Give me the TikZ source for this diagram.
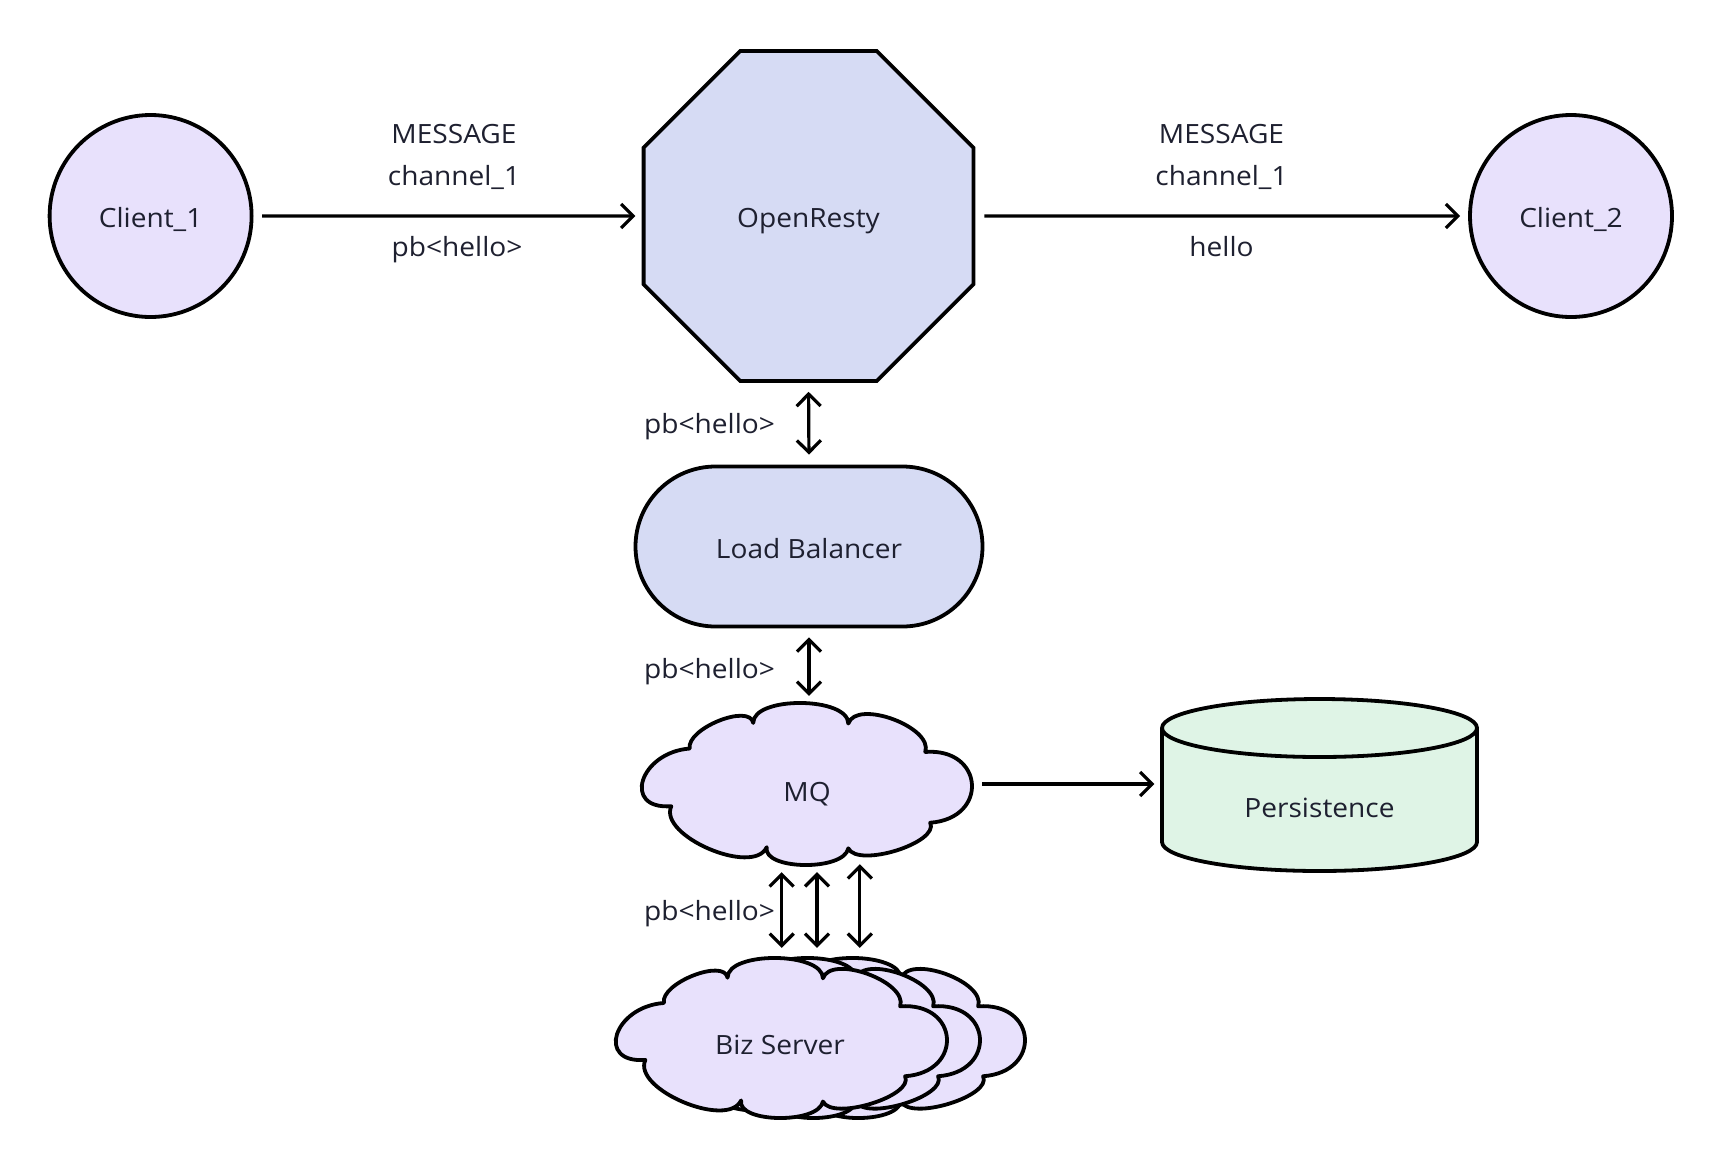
\documentclass[tikz,border=0pt]{standalone}
\usepackage{fontspec}
\setmainfont{Open Sans}[FakeStretch=1.06]
\usetikzlibrary{arrows.meta,shapes.geometric,shapes.misc,calc}
\definecolor{lav}{HTML}{E8E1FC}
\definecolor{blu}{HTML}{D6DBF4}
\definecolor{grn}{HTML}{DFF4E6}
\definecolor{ink}{HTML}{1E2030}
\newcommand\mycloud{(-0.414,0.137)
 .. controls (-0.566,0.160) and (-0.510,-0.196) .. (-0.358,-0.219)
 .. controls (-0.369,-0.342) and (-0.176,-0.500) .. (-0.165,-0.377)
 .. controls (-0.165,-0.544) and (0.124,-0.540) .. (0.124,-0.373)
 .. controls (0.149,-0.526) and (0.383,-0.351) .. (0.358,-0.198)
 .. controls (0.537,-0.225) and (0.552,0.212) .. (0.373,0.239)
 .. controls (0.402,0.362) and (0.153,0.520) .. (0.124,0.397)
 .. controls (0.111,0.539) and (-0.137,0.532) .. (-0.124,0.390)
 .. controls (-0.165,0.572) and (-0.455,0.319) .. (-0.414,0.137) -- cycle}
\begin{document}
\begin{tikzpicture}[x=1pt,y=-1pt,
  every node/.style={font=\fontsize{26.5}{40}\selectfont, text=ink},
  ctr/.style={text height=23.4pt, text depth=0pt},
  shp/.style={draw=black, line width=3.8pt, inner sep=0pt, ctr},
  cldline/.style={draw=black, fill=lav, line width=3.8pt, line join=round},
  box/.style={minimum width=329pt, minimum height=162pt, inner sep=0pt},
  conn/.style={line width=3.2pt, draw=black},
  tipa/.tip={Straight Barb[length=12pt,width=24pt]},
  one/.style={conn, -tipa},
  two/.style={conn, tipa-tipa},
  lbl/.style={anchor=base},
  vlbl/.style={anchor=base west, inner sep=0pt}]
\useasboundingbox[fill=white] (0,0) rectangle (1724,1168);

% nodes
\node[shp, circle, fill=lav, minimum size=202pt] (c1) at (150.6,216) {Client\_1};
\node[shp, circle, fill=lav, minimum size=202pt] (c2) at (1571,216) {Client\_2};
\node[shp, regular polygon, regular polygon sides=8, fill=blu, minimum size=357pt] (or) at (808.5,216) {OpenResty};
\node[shp, rounded rectangle, fill=blu, minimum width=347pt, minimum height=160pt] (lb) at (809,546.5) {Load Balancer};

% MQ cloud
\path[cldline, shift={(807.5,784)}, xscale=329, yscale=162] \mycloud;
\node[box] (mq) at (807.5,784) {};
\node[ctr] (mqt) at (807,790) {MQ};

% biz server stack
\path[cldline, shift={(860,1038)}, xscale=330, yscale=160] \mycloud;
\path[cldline, shift={(815,1038)}, xscale=330, yscale=160] \mycloud;
\path[cldline, shift={(782,1038)}, xscale=330, yscale=160] \mycloud;
\node[box, minimum height=160pt, minimum width=330pt] (bz) at (782,1038) {};
\node[ctr] (bzt) at (780,1043) {Biz Server};

% persistence cylinder
\fill[grn] (1162,728) -- (1162,842) arc[start angle=180,end angle=360,x radius=157.5pt,y radius=29pt] -- (1477,728) arc[start angle=0,end angle=180,x radius=157.5pt,y radius=29pt] -- cycle;
\draw[line width=3.8pt, line join=round] (1162,728) -- (1162,842) arc[start angle=180,end angle=360,x radius=157.5pt,y radius=29pt] -- (1477,728);
\draw[line width=3.8pt] (1319.5,728) ellipse[x radius=157.5pt, y radius=29pt];
\node[minimum width=315pt, minimum height=172pt, inner sep=0pt] (ps) at (1319.5,785) {};
\node[ctr] (pst) at (1319.5,806) {Persistence};

% connectors
\draw[one, shorten <=8.6pt, shorten >=6.3pt] (c1) -- (or);
\draw[one, shorten <=9pt, shorten >=8pt] (or) -- (c2);
\draw[two, shorten <=9pt, shorten >=10pt] (or.south) -- (lb.north);
\draw[two, shorten <=9pt, shorten >=7pt] (lb.south) -- (lb.south |- mq.north);
\draw[one, shorten <=10pt, shorten >=7.5pt] (mq.east) -- (mq.east -| ps.west);
\draw[two] ($(mq.south)+(-25.8,7)$) -- ($(bz.north)+(-0.3,-10)$);
\draw[two] ($(mq.south)+(9.5,7)$) -- ($(bz.north)+(35,-10)$);
\draw[two] ($(mq.south)+(52.3,-1)$) -- ($(bz.north)+(77.8,-10)$);

% labels
\node[lbl] (m1) at (454,143.3) {MESSAGE};
\node[lbl] (h1) at (454,185) {channel\_1};
\node[lbl] (p1) at (457,256.7) {pb<hello>};
\node[lbl] (m2) at (1221.5,143.3) {MESSAGE};
\node[lbl] (h2) at (1221.5,185) {channel\_1};
\node[lbl] (p2) at (1221.5,256.7) {hello};
\node[vlbl] (v1) at (644,433) {pb<hello>};
\node[vlbl] (v2) at (644,678) {pb<hello>};
\node[vlbl] (v3) at (644,920) {pb<hello>};
\end{tikzpicture}
\end{document}
